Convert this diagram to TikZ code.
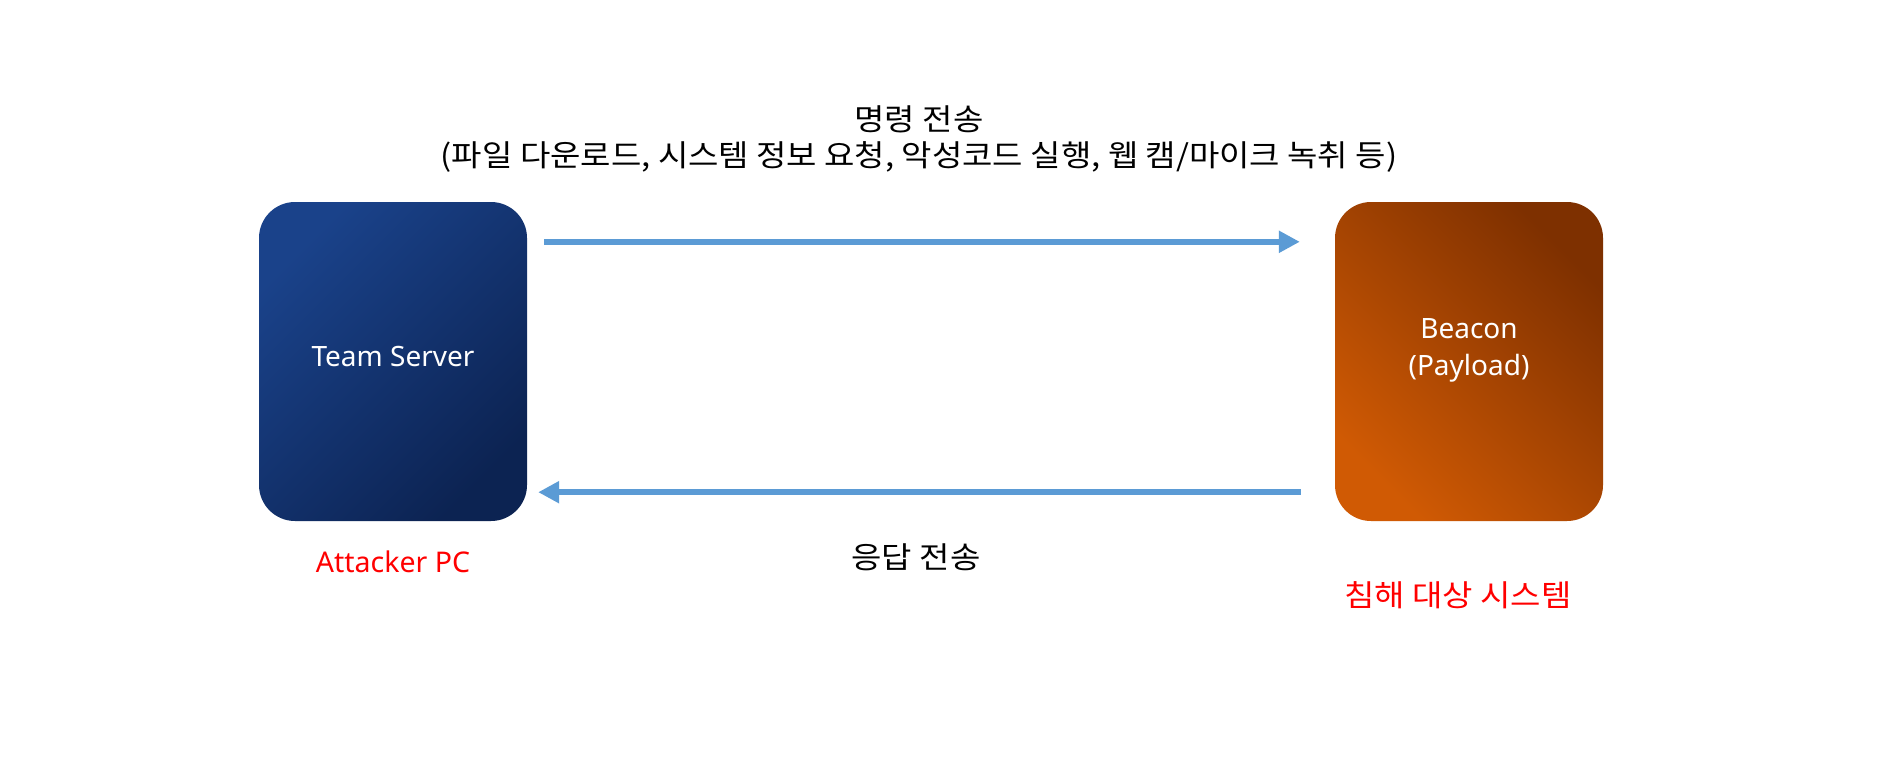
\documentclass[tikz,border=0pt]{standalone}
\usepackage{fontspec}
\setmainfont{Noto Sans}
\newfontfamily\kr[FakeStretch=1.1]{Noto Sans CJK KR}
\usetikzlibrary{arrows.meta,calc}
\definecolor{arrowblue}{HTML}{5B9BD5}
\definecolor{navyA}{HTML}{1A428A}
\definecolor{navyB}{HTML}{0C2352}
\definecolor{rustA}{HTML}{D05A04}
\definecolor{rustB}{HTML}{7E3000}
\definecolor{alertred}{HTML}{FF0000}
\begin{document}
\begin{tikzpicture}[x=1pt,y=-1pt,
  boxshape/.style={rounded corners=36pt, minimum width=268pt, minimum height=319pt, inner sep=0pt, draw=none},
  boxtext/.style={text=white, font=\fontsize{28}{37}\selectfont, align=center, inner sep=0pt},
  krlabel/.style={font=\kr\fontsize{30}{36}\selectfont, align=center, inner sep=0pt},
  redlabel/.style={text=alertred, inner sep=0pt},
  flow/.style={draw=arrowblue, line width=6.5pt, -{Triangle[length=21pt,width=21pt]}}
]
\useasboundingbox (0,0) rectangle (1878,771);
\fill[white] (0,0) rectangle (1878,771);

\node[boxshape, top color=navyA, bottom color=navyB, shading angle=45] (ts) at (393,361.5) {};
\node[boxshape, top color=rustB, bottom color=rustA, shading angle=-45] (bc) at (1469,361.5) {};

\node[boxtext] (tstext) at ([yshift=5pt]ts.center) {Team Server};
\node[boxtext] (bctext) at ([yshift=11.5pt]bc.center) {Beacon\\(Payload)};

\node[redlabel, font=\fontsize{28.5}{34}\selectfont] (atk) at (393,562) {Attacker PC};
\node[redlabel, font=\kr\fontsize{30}{36}\selectfont] (vic) at (1458,595) {침해 대상 시스템};

\coordinate (t1) at ($(ts.north east)+(17,40)$);
\coordinate (t2) at ($(bc.north west)+(-35,40)$);
\coordinate (b1) at ($(bc.south west)+(-34,-29)$);
\coordinate (b2) at ($(ts.south east)+(11,-29)$);

\draw[flow] (t1) -- (t2);
\draw[flow] (b1) -- (b2);

\node[krlabel] (cmd) at (919,139) {명령 전송\\(파일 다운로드, 시스템 정보 요청, 악성코드 실행, 웹 캠/마이크 녹취 등)};
\node[krlabel] (resp) at (916,557) {응답 전송};
\end{tikzpicture}
\end{document}
